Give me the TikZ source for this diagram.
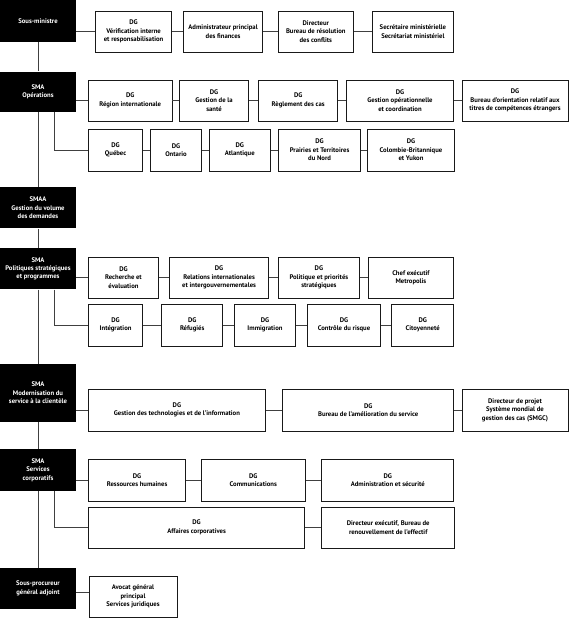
\documentclass[tikz,border=0pt]{standalone}
\usepackage{fontspec}
\setmainfont{PT Sans}
\tikzset{
  blk/.style={fill=black,text=white,minimum width=76bp,inner sep=0pt,align=center},
  unit/.style={draw=black!90,line width=.9pt,fill=white,minimum height=41bp,inner sep=0pt,align=center},
  link/.style={draw=black!75,line width=.8pt}
}
\begin{document}
\begin{tikzpicture}[x=1bp,y=-1bp,font=\bfseries\fontsize{6.7}{8.5}\selectfont]
  \useasboundingbox (0,0) rectangle (570,619);
  % executives
  \node[blk,minimum height=42bp] (sm) at (38,21) {Sous-ministre};
  \node[blk,minimum height=40.6bp] (ops) at (38,92) {SMA\\Opérations};
  \node[blk,minimum height=41bp] (smaa) at (38,207.8) {SMAA\\Gestion du volume\\des demandes};
  \node[blk,minimum height=41bp] (pol) at (38,268.8) {SMA\\Politiques stratégiques\\et programmes};
  \node[blk,minimum height=57.4bp] (mod) at (38,393) {SMA\\Modernisation du\\service à la clientèle};
  \node[blk,minimum height=41.7bp] (corp) at (38,470) {SMA\\Services\\corporatifs};
  \node[blk,minimum height=41.3bp] (spga) at (38,588.4) {Sous-procureur\\général adjoint};
  % sous-ministre
  \node[unit,minimum width=76bp] (sm1) at (133.6,31.5) {DG\\Vérification interne\\et responsabilisation};
  \node[unit,minimum width=79.6bp] (sm2) at (223.1,31.5) {Administrateur principal\\des finances};
  \node[unit,minimum width=75.3bp] (sm3) at (315.8,31.5) {Directeur\\Bureau de résolution\\des conflits};
  \node[unit,minimum width=81.8bp] (sm4) at (412.9,31.5) {Secrétaire ministérielle\\Secrétariat ministériel};
  % operations
  \node[unit,minimum width=83.6bp] (op1) at (130.2,100.5) {DG\\Région internationale};
  \node[unit,minimum width=68.8bp] (op2) at (214,100.5) {DG\\Gestion de la\\santé};
  \node[unit,minimum width=78.6bp] (op3) at (298.2,100.5) {DG\\Règlement des cas};
  \node[unit,minimum width=107.6bp] (op4) at (400,100.5) {DG\\Gestion opérationnelle\\et coordination};
  \node[unit,minimum width=106bp] (op5) at (515,100.5) {DG\\Bureau d’orientation relatif aux\\titres de compétences étrangers};
  \node[unit,minimum width=54.5bp,minimum height=42bp] (rg1) at (115.6,150) {DG\\Québec};
  \node[unit,minimum width=51bp,minimum height=42bp] (rg2) at (176,150) {DG\\Ontario};
  \node[unit,minimum width=60.7bp,minimum height=42bp] (rg3) at (239.8,150) {DG\\Atlantique};
  \node[unit,minimum width=82.2bp,minimum height=42bp] (rg4) at (319.6,150) {DG\\Prairies et Territoires\\du Nord};
  \node[unit,minimum width=86.9bp,minimum height=42bp] (rg5) at (411,150) {DG\\Colombie-Britannique\\et Yukon};
  % politiques
  \node[unit,minimum width=70.1bp] (po1) at (123.5,277.5) {DG\\Recherche et\\évaluation};
  \node[unit,minimum width=98.6bp] (po2) at (219.1,277.5) {DG\\Relations internationales\\et intergouvernementales};
  \node[unit,minimum width=80.8bp] (po3) at (318.9,277.5) {DG\\Politique et priorités\\stratégiques};
  \node[unit,minimum width=85.1bp] (po4) at (410.9,277.5) {Chef exécutif\\Metropolis};
  \node[unit,minimum width=54.5bp,minimum height=42bp] (pr1) at (115.6,325) {DG\\Intégration};
  \node[unit,minimum width=61.4bp,minimum height=42bp] (pr2) at (192.2,325) {DG\\Réfugiés};
  \node[unit,minimum width=61.1bp,minimum height=42bp] (pr3) at (265,325) {DG\\Immigration};
  \node[unit,minimum width=73.4bp,minimum height=42bp] (pr4) at (344,325) {DG\\Contrôle du risque};
  \node[unit,minimum width=62.2bp,minimum height=42bp] (pr5) at (422.7,325) {DG\\Citoyenneté};
  % modernisation
  \node[unit,minimum width=177.1bp,minimum height=42bp] (md1) at (176.9,410) {DG\\Gestion des technologies et de l’information};
  \node[unit,minimum width=171.3bp,minimum height=42bp] (md2) at (368.2,410) {DG\\Bureau de l’amélioration du service};
  \node[unit,minimum width=106bp,minimum height=42bp] (md3) at (515,410) {Directeur de projet\\Système mondial de\\gestion des cas (SMGC)};
  % services corporatifs
  \node[unit,minimum width=97.4bp,minimum height=42bp] (sc1) at (137.1,480) {DG\\Ressources humaines};
  \node[unit,minimum width=104.4bp,minimum height=42bp] (sc2) at (253.3,480) {DG\\Communications};
  \node[unit,minimum width=132bp,minimum height=42bp] (sc3) at (387.8,480) {DG\\Administration et sécurité};
  \node[unit,minimum width=216.3bp] (ac1) at (196.6,527.5) {DG\\Affaires corporatives};
  \node[unit,minimum width=132.7bp] (ac2) at (388.2,527.5) {Directeur exécutif, Bureau de\\renouvellement de l’effectif};
  % sous-procureur
  \node[unit,minimum width=88bp] (avocat) at (133,596.5) {Avocat général\\principal\\Services juridiques};

  % spine
  \foreach \a/\b in {sm/ops,ops/smaa,smaa/pol,pol/mod,mod/corp,corp/spga}
    \draw[link] (\a.south) -- (\b.north);
  % heads to first box of each row
  \foreach \a/\b in {sm/sm1,ops/op1,pol/po1,mod/md1,corp/sc1}
    \draw[link] (\a.east |- \b.west) -- (\b.west);
  \draw[link] ([yshift=-3.5bp]spga.east) -- ([yshift=-3.5bp]spga.east -| avocat.west);
  % second rows
  \foreach \a/\b in {ops/rg1,pol/pr1,corp/ac1}
    \draw[link] ([xshift=16bp]\a.south) |- (\b.west);
  % chains
  \foreach \a/\b in {sm1/sm2,sm2/sm3,sm3/sm4,op1/op2,op2/op3,op3/op4,op4/op5,
      rg1/rg2,rg2/rg3,rg3/rg4,rg4/rg5,po1/po2,po2/po3,po3/po4,
      pr1/pr2,pr2/pr3,pr3/pr4,pr4/pr5,md1/md2,md2/md3,sc1/sc2,sc2/sc3,ac1/ac2}
    \draw[link] (\a.east) -- (\b.west);
\end{tikzpicture}
\end{document}
